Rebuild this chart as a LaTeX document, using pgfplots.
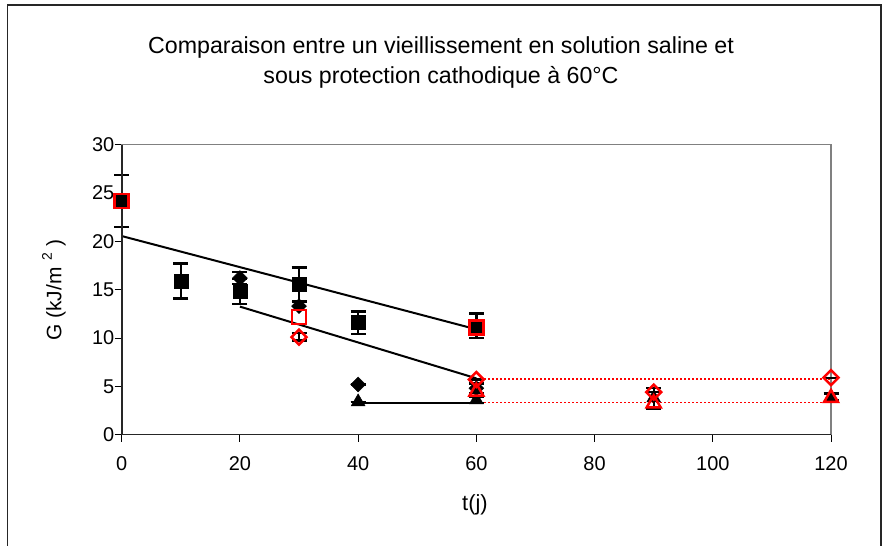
\documentclass[border=0pt]{standalone}
\usepackage{fontspec}
\setmainfont{Liberation Sans}
\usepackage{pgfplots}
\pgfplotsset{compat=1.18}
\definecolor{xred}{RGB}{255,0,0}
\definecolor{frameg}{RGB}{128,128,128}
\begin{document}
\begin{tikzpicture}[x=1bp,y=1bp]
\useasboundingbox (0,0) rectangle (882,546);
\draw[line width=1.3bp, black!85] (7.3,-2) -- (7.3,541) -- (881,541) -- (881,-2);
\node[anchor=base, font=\fontsize{23.3}{28}\selectfont, inner sep=0pt] at (441,492) {Comparaison entre un vieillissement en solution saline et};
\node[anchor=base, font=\fontsize{23.3}{28}\selectfont, inner sep=0pt] at (441,462) {sous protection cathodique à 60°C};
\begin{axis}[
  at={(121.7bp,111.3bp)}, anchor=south west,
  scale only axis, width=709.3bp, height=290bp,
  xmin=0, xmax=120, ymin=0, ymax=30,
  xtick={0,20,...,120}, ytick={0,5,...,30},
  tick pos=left, tick align=outside,
  major tick length=7bp,
  tick style={black, line width=1bp},
  axis line style={draw=frameg, line width=1.6bp},
  tick label style={font=\fontsize{20}{23}\selectfont},
  xticklabel style={yshift=-11bp},
  yticklabel style={xshift=3bp},
  /pgf/number format/assume math mode=true,
  clip=false,
  error bars/error bar style={line width=2.3bp, black},
  error bars/error mark=-,
  error bars/error mark options={rotate=90, line width=2.3bp, black, mark size=7.5bp},
]
% trend lines
\addplot[black, line width=2bp] coordinates {(0,20.55) (60,10.9)};
\addplot[black, line width=2bp] coordinates {(20,13.25) (60,5.83)};
\addplot[black, line width=2bp] coordinates {(40,3.3) (60,3.3)};
\addplot[xred, line width=1.5bp, dash pattern=on 2bp off 2bp] coordinates {(60,5.76) (120,5.76)};
\addplot[xred, line width=1.5bp, dash pattern=on 2bp off 2bp] coordinates {(60,3.35) (120,3.35)};
% black squares
\addplot[only marks, mark=square*, mark size=7bp, black,
  error bars/.cd, y dir=both, y explicit] coordinates {
  (0,24.2) += (0,2.7) -= (0,2.75)
  (10,15.9) += (0,1.8) -= (0,1.8)
  (20,14.8) += (0,1.3) -= (0,1.3)
  (30,15.6) += (0,1.7) -= (0,1.8)
  (40,11.6) += (0,1.15) -= (0,1.15)
  (60,11.1) += (0,1.45) -= (0,1.1)
};
% black diamonds
\addplot[only marks, mark=square*, mark size=5.3bp, mark options={rotate=45}, black,
  error bars/.cd, y dir=both, y explicit] coordinates {
  (20,16.2) += (0,0.6) -= (0,0.6)
  (30,13.3) += (0,0.4) -= (0,0.4)
  (40,5.2) += (0,0) -= (0,0)
  (60,4.8) += (0,0.5) -= (0,0.5)
};
% black triangles
\addplot[only marks, mark=triangle*, mark size=8bp, black,
  error bars/.cd, y dir=both, y explicit] coordinates {
  (40,3.4) += (0,0) -= (0,0)
  (60,3.6) += (0,0.3) -= (0,0.3)
  (90,3.8) += (0,1.0) -= (0,1.1)
  (120,3.9) += (0,0.35) -= (0,0.35)
};
% red open squares
\addplot[only marks, mark=square, mark size=7bp, xred, mark options={line width=2.5bp}] coordinates {
  (0,24.2) (30,12.2) (60,11.1)
};
% red open diamonds
\addplot[only marks, mark=square, mark size=5.3bp, xred, mark options={rotate=45, line width=2.5bp},
  error bars/.cd, y dir=both, y explicit] coordinates {
  (30,10.1) += (0,0.45) -= (0,0.35)
  (60,5.7) += (0,0) -= (0,0)
  (90,4.4) += (0,0) -= (0,0)
  (120,5.9) += (0,0) -= (0,0)
};
% red open triangles
\addplot[only marks, mark=triangle, mark size=8bp, xred, mark options={line width=2.5bp}] coordinates {
  (60,4.45) (90,3.25) (120,3.8)
};
\draw[line width=1.6bp, black!85] (rel axis cs:0,1) -- (rel axis cs:0,0) -- (rel axis cs:1,0);
\end{axis}
\node[font=\fontsize{22}{25}\selectfont] at (475,41) {t(j)};
\node[font=\fontsize{21}{24}\selectfont, rotate=90] at (54,256) {G (kJ/m\hspace{0.35em}\raisebox{0.45em}{\fontsize{14}{14}\selectfont 2}\hspace{0.3em})};
\end{tikzpicture}
\end{document}
